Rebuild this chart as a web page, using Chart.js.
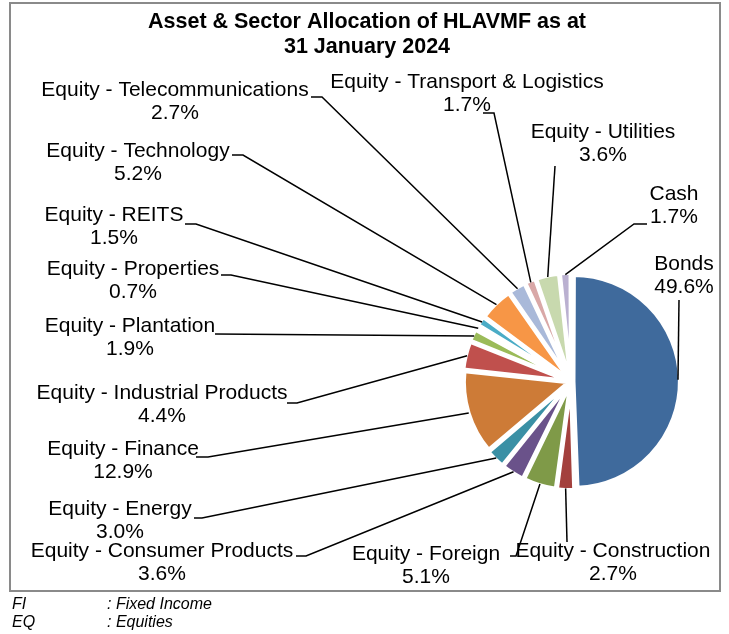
<!DOCTYPE html>
<html>
<head>
<meta charset="utf-8">
<script src="https://cdn.jsdelivr.net/npm/chart.js@4.4.1/dist/chart.umd.min.js"></script>
<style>
html, body { margin: 0; padding: 0; background: #fff; }
#wrap { position: relative; width: 729px; height: 634px; overflow: hidden; }
#allocChart { position: absolute; left: 0; top: 0; }
.note { position: absolute; left: 12px; font: italic 16px 'Liberation Sans', Arial, sans-serif; line-height: 18px; color: #000; white-space: nowrap; }
.note span { position: absolute; left: 95px; }
</style>
</head>
<body>
<div id="wrap">
  <canvas id="allocChart" width="729" height="634"></canvas>
  <div class="note" style="top:595px">FI<span>: Fixed Income</span></div>
  <div class="note" style="top:613px">EQ<span>: Equities</span></div>
</div>
<script>
// slices, clockwise from 12 o'clock
const categories = [
    'Bonds',
    'Equity - Construction',
    'Equity - Foreign',
    'Equity - Consumer Products',
    'Equity - Energy',
    'Equity - Finance',
    'Equity - Industrial Products',
    'Equity - Plantation',
    'Equity - Properties',
    'Equity - REITS',
    'Equity - Technology',
    'Equity - Telecommunications',
    'Equity - Transport & Logistics',
    'Equity - Utilities',
    'Cash'
];
const weights = [49.6, 2.7, 5.1, 3.6, 3.0, 12.9, 4.4, 1.9, 0.7, 1.5, 5.2, 2.7, 1.7, 3.6, 1.7];
const sliceColors = [
    '#3f6a9c', '#a3403d', '#7f9a48', '#6a528a', '#3a90a5', '#cd7b37', '#c0504d',
    '#9bbb59', '#8064a2', '#4bacc6', '#f79646', '#a9b9d9', '#d9a8a7', '#c8d9ae', '#bab0d0'
];
const titleLines = ['Asset & Sector Allocation of HLAVMF as at', '31 January 2024'];

// label placement: [text x, first baseline y, leader start x, leader start y, elbow x]
const labelPos = [
    [684, 270, 679, 300, null],
    [613, 557, 567, 542, null],
    [426, 560, 510, 556, 516],
    [162, 557, 296, 556, 306],
    [120, 515, 194, 518, 202],
    [123, 455, 196, 457, 208],
    [162, 399, 287, 403, 297],
    [130, 332, 215, 334, null],
    [133, 275, 221, 275, 231],
    [114, 221, 185, 224, 196],
    [138, 157, 232, 155, 243],
    [175, 96, 311, 97, 322],
    [467, 88, 483, 113, 494],
    [603, 138, 555, 166, null],
    [674, 200, 647, 224, 634]
];

const framePlugin = {
    id: 'frame',
    beforeDraw(chart) {
        const ctx = chart.ctx;
        ctx.save();
        ctx.fillStyle = '#fff';
        ctx.fillRect(0, 0, chart.width, chart.height);
        ctx.strokeStyle = '#8a8a8a';
        ctx.lineWidth = 2;
        ctx.strokeRect(10, 3, 710, 588);
        ctx.fillStyle = '#000';
        ctx.textAlign = 'center';
        ctx.textBaseline = 'alphabetic';
        ctx.font = "bold 21.5px 'Liberation Sans', Arial, sans-serif";
        ctx.fillText(titleLines[0], 367, 28);
        ctx.fillText(titleLines[1], 367, 53);
        ctx.restore();
    }
};

const calloutPlugin = {
    id: 'callouts',
    afterDatasetsDraw(chart) {
        const ctx = chart.ctx;
        const meta = chart.getDatasetMeta(0);
        ctx.save();
        ctx.font = "21px 'Liberation Sans', Arial, sans-serif";
        ctx.fillStyle = '#000';
        ctx.strokeStyle = '#000';
        ctx.lineWidth = 1.5;
        ctx.textAlign = 'center';
        ctx.textBaseline = 'alphabetic';
        meta.data.forEach((arc, i) => {
            const p = labelPos[i];
            ctx.fillText(categories[i], p[0], p[1]);
            ctx.fillText(weights[i].toFixed(1) + '%', p[0], p[1] + 23);

            const mid = (arc.startAngle + arc.endAngle) / 2;
            const r = arc.outerRadius + 3;
            ctx.beginPath();
            ctx.moveTo(p[2], p[3]);
            if (p[4] !== null) ctx.lineTo(p[4], p[3]);
            ctx.lineTo(arc.x + Math.cos(mid) * r, arc.y + Math.sin(mid) * r);
            ctx.stroke();
        });
        ctx.restore();
    }
};

new Chart(document.getElementById('allocChart'), {
    type: 'pie',
    data: {
        labels: categories,
        datasets: [{
            data: weights,
            backgroundColor: sliceColors,
            borderColor: '#ffffff',
            borderWidth: 4,
            offset: 10
        }]
    },
    options: {
        responsive: false,
        animation: false,
        radius: 104,
        layout: { padding: { left: 423, right: 10, top: 201, bottom: 72 } },
        plugins: {
            legend: { display: false },
            tooltip: { enabled: false },
            title: { display: false }
        }
    },
    plugins: [framePlugin, calloutPlugin]
});
</script>
</body>
</html>
